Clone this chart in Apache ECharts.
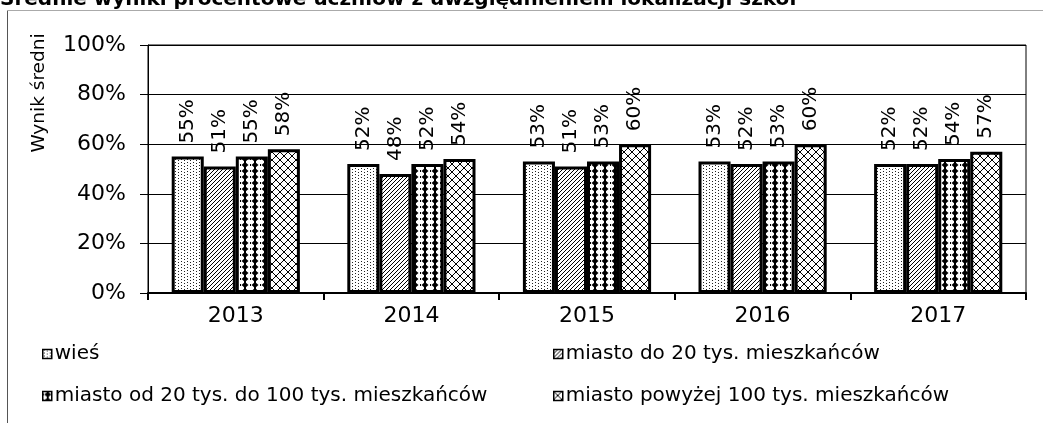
<!DOCTYPE html>
<html>
<head>
<meta charset="utf-8">
<script src="https://cdn.jsdelivr.net/npm/echarts@6/dist/echarts.min.js"></script>
<style>
html,body{margin:0;padding:0;background:#fff;}
#chart{width:1043px;height:423px;}
</style>
</head>
<body>
<div id="chart"></div>
<script>
const titleText = 'Średnie wyniki procentowe uczniów z uwzględnieniem lokalizacji szkół';
const yAxisName = 'Wynik średni';
const categories = ['2013', '2014', '2015', '2016', '2017'];
const seriesNames = [
  'wieś',
  'miasto do 20 tys. mieszkańców',
  'miasto od 20 tys. do 100 tys. mieszkańców',
  'miasto powyżej 100 tys. mieszkańców'
];
const wies = [55, 52, 53, 53, 52];
const miastoDo20 = [51, 48, 51, 52, 52];
const miasto20do100 = [55, 52, 53, 53, 54];
const miastoPow100 = [58, 54, 60, 60, 57];
const yTicks = [0, 20, 40, 60, 80, 100];

const FONT = 'DejaVu Sans';

function tile(w, h, draw) {
  const c = document.createElement('canvas');
  c.width = w; c.height = h;
  const ctx = c.getContext('2d');
  ctx.fillStyle = '#fff';
  ctx.fillRect(0, 0, w, h);
  ctx.fillStyle = '#000';
  ctx.strokeStyle = '#000';
  draw(ctx);
  return { image: c, repeat: 'repeat' };
}
const patDots = tile(6, 6, ctx => {
  ctx.fillStyle = '#222';
  ctx.fillRect(1, 0, 1, 1);
  ctx.fillRect(1, 3, 1, 1);
  ctx.fillRect(4, 1, 1, 1);
  ctx.fillRect(4, 4, 1, 1);
});
const patHatch = tile(4, 4, ctx => {
  for (let i = 0; i < 4; i++) ctx.fillRect(i, 3 - i, 1, 1);
});
const patDiamond = tile(10, 6, ctx => {
  ctx.beginPath();
  ctx.moveTo(5, 0); ctx.lineTo(8.5, 3); ctx.lineTo(5, 6); ctx.lineTo(1.5, 3);
  ctx.closePath(); ctx.fill();
  ctx.fillRect(4, 0, 2, 6);
  ctx.fillRect(0, 2, 1, 2);
});
const patLattice = tile(8, 8, ctx => {
  ctx.lineWidth = 1;
  ctx.beginPath();
  ctx.moveTo(0, 0); ctx.lineTo(8, 8);
  ctx.moveTo(8, 0); ctx.lineTo(0, 8);
  ctx.stroke();
});
const patterns = [patDots, patHatch, patDiamond, patLattice];
const values = [wies, miastoDo20, miasto20do100, miastoPow100];

const chart = echarts.init(document.getElementById('chart'), null, { renderer: 'canvas' });

const legendCommon = {
  orient: 'vertical',
  icon: 'rect',
  itemWidth: 9,
  itemHeight: 9,
  itemGap: 22,
  padding: 0,
  itemStyle: { borderColor: '#000', borderWidth: 1.5 },
  textStyle: { fontFamily: FONT, fontSize: 20, color: '#000', padding: [0, 0, 0, -2] }
};

const option = {
  backgroundColor: '#fff',
  animation: false,
  title: {
    text: titleText,
    left: 0,
    top: -10,
    padding: 0,
    textStyle: { fontFamily: FONT, fontWeight: 'bold', fontSize: 20, color: '#000' }
  },
  legend: [
    Object.assign({}, legendCommon, { left: 42, top: 344, data: [seriesNames[0], seriesNames[2]] }),
    Object.assign({}, legendCommon, { left: 553, top: 344, data: [seriesNames[1], seriesNames[3]] })
  ],
  grid: {
    left: 148, right: 17, top: 45, bottom: 130,
    show: true, borderColor: '#000', borderWidth: 1, backgroundColor: 'transparent'
  },
  xAxis: {
    type: 'category',
    data: categories,
    axisLine: { lineStyle: { color: '#000', width: 2 } },
    axisTick: { show: true, alignWithLabel: false, length: 7, lineStyle: { color: '#000', width: 2 } },
    axisLabel: { fontFamily: FONT, fontSize: 22, color: '#000', margin: 12 }
  },
  yAxis: {
    type: 'value',
    min: yTicks[0],
    max: yTicks[yTicks.length - 1],
    interval: yTicks[1] - yTicks[0],
    axisLine: { show: true, lineStyle: { color: '#000', width: 1 } },
    axisTick: { show: true, length: 8, lineStyle: { color: '#000' } },
    splitLine: { show: true, lineStyle: { color: '#000', width: 1 } },
    axisLabel: { fontFamily: FONT, fontSize: 22, color: '#000', margin: 22, formatter: '{value}%' }
  },
  graphic: [
    { type: 'line', shape: { x1: 7.5, y1: 10, x2: 7.5, y2: 423 }, style: { stroke: '#555', lineWidth: 1 } },
    { type: 'line', shape: { x1: 7, y1: 10.5, x2: 1043, y2: 10.5 }, style: { stroke: '#aaa', lineWidth: 1 } },
    {
      type: 'text', x: 39, y: 93, rotation: Math.PI / 2,
      style: { text: yAxisName, fontFamily: FONT, fontSize: 18.5, fill: '#000', textAlign: 'center', textVerticalAlign: 'middle' }
    }
  ],
  series: seriesNames.map((name, i) => ({
    name: name,
    type: 'bar',
    data: values[i],
    barGap: '0%',
    barCategoryGap: '27%',
    itemStyle: { color: patterns[i], borderColor: '#000', borderWidth: 3 },
    label: {
      show: true,
      position: 'top',
      rotate: 90,
      align: 'left',
      verticalAlign: 'middle',
      distance: 13,
      formatter: '{c}%',
      fontFamily: FONT,
      fontSize: 20,
      color: '#000'
    }
  }))
};
chart.setOption(option);
</script>
</body>
</html>
